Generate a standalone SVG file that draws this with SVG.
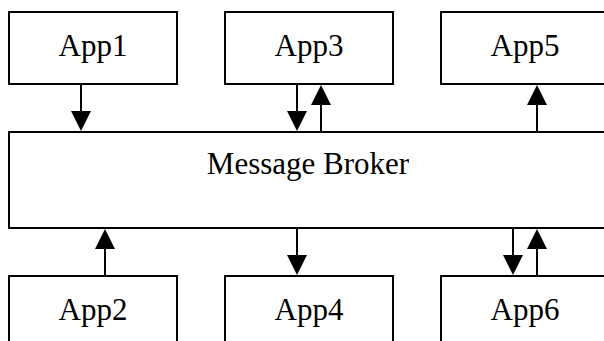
<svg xmlns="http://www.w3.org/2000/svg" width="604" height="341" viewBox="0 0 604 341">
<style>
.box{fill:#fff;stroke:#000;stroke-width:2}
.lbl{font-family:"Liberation Serif","Times New Roman",serif;font-size:31px;fill:#000;text-anchor:middle}
.ln{stroke:#000;stroke-width:2;fill:none}
.hd{fill:#000}
</style>
<rect width="604" height="341" fill="#fff"/>
<g id="broker"><rect class="box" x="9" y="132" width="610" height="96"/><text class="lbl" x="308" y="174">Message Broker</text></g>
<g id="app1"><rect class="box" x="9" y="12" width="168" height="72"/><text class="lbl" x="93" y="56">App1</text></g>
<g id="app3"><rect class="box" x="225" y="12" width="168" height="72"/><text class="lbl" x="309" y="56">App3</text></g>
<g id="app5"><rect class="box" x="441" y="12" width="180" height="72"/><text class="lbl" x="525" y="56">App5</text></g>
<g id="app2"><rect class="box" x="9" y="276" width="168" height="80"/><text class="lbl" x="93" y="320">App2</text></g>
<g id="app4"><rect class="box" x="225" y="276" width="168" height="80"/><text class="lbl" x="309" y="320">App4</text></g>
<g id="app6"><rect class="box" x="441" y="276" width="180" height="80"/><text class="lbl" x="525" y="320">App6</text></g>
<g id="connectors">
<line class="ln" x1="81" y1="84" x2="81" y2="114"/><polygon class="hd" points="71,111 91,111 81,131"/>
<line class="ln" x1="297" y1="84" x2="297" y2="114"/><polygon class="hd" points="287,111 307,111 297,131"/>
<line class="ln" x1="321" y1="132" x2="321" y2="102"/><polygon class="hd" points="311,105 331,105 321,85"/>
<line class="ln" x1="537" y1="132" x2="537" y2="102"/><polygon class="hd" points="527,105 547,105 537,85"/>
<line class="ln" x1="105" y1="276" x2="105" y2="246"/><polygon class="hd" points="95,249 115,249 105,229"/>
<line class="ln" x1="297" y1="228" x2="297" y2="258"/><polygon class="hd" points="287,255 307,255 297,275"/>
<line class="ln" x1="513" y1="228" x2="513" y2="258"/><polygon class="hd" points="503,255 523,255 513,275"/>
<line class="ln" x1="537" y1="276" x2="537" y2="246"/><polygon class="hd" points="527,249 547,249 537,229"/>
</g>
</svg>
